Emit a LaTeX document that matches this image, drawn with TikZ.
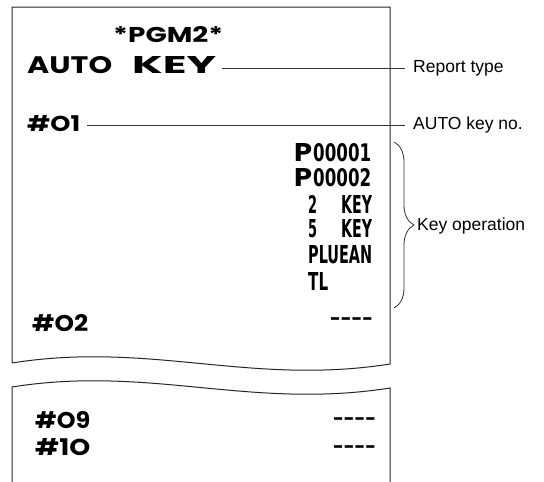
\documentclass[tikz,border=0pt]{standalone}
\usepackage{fontspec}
\setmainfont{Liberation Sans}
\newfontfamily\rcpt{Poppins}
\newfontfamily\cond{DejaVu Sans}
\usetikzlibrary{decorations.pathreplacing}
\newcommand{\rw}[3]{\resizebox{#1}{#2}{#3}}
\tikzset{
  paper/.style={line width=1pt, draw=black!85},
  leader/.style={line width=0.8pt, draw=black!80},
  brc/.style={line width=0.8pt, draw=black!80, decorate, decoration={brace, amplitude=20pt}},
  rtxt/.style={inner sep=0pt, anchor=west, font=\rcpt\bfseries},
  ctxt/.style={inner sep=0pt, anchor=west, font=\cond\bfseries},
  lbl/.style={inner xsep=8pt, inner ysep=0pt, anchor=west, font=\fontsize{17.5}{20}\selectfont},
}
\begin{document}
\begin{tikzpicture}[x=1pt, y=-1pt]
\useasboundingbox[fill=white] (0,0) rectangle (544,482);
% paper outlines
\draw[paper] (12,363) -- (12,7) -- (390,7) -- (390,364)
  .. controls (250,386) and (150,341) .. (12,363);
\draw[paper] (12,482) -- (12,387) .. controls (150,365) and (250,410) .. (390,388) -- (390,482);
% receipt text
\node[rtxt] (pgm) at (113,35) {\rw{110pt}{16pt}{*PGM2*}};
\node[rtxt] (ak) at (27,65) {\rw{85pt}{17pt}{AUTO}\hspace{20pt}\rw{84pt}{17pt}{KEY}};
\node[rtxt] (n01) at (27,124) {\rw{53pt}{16pt}{\#O1}};
\node[ctxt] (p1) at (294,152.5) {\rw{18pt}{18pt}{\rcpt\bfseries P}\hspace{1pt}\rw{58pt}{18pt}{00001}};
\node[ctxt] (p2) at (294,178) {\rw{18pt}{18pt}{\rcpt\bfseries P}\hspace{1pt}\rw{58pt}{18pt}{00002}};
\node[ctxt] (k2) at (308,204) {\rw{9pt}{18pt}{2}\hspace{24pt}\rw{31pt}{18pt}{KEY}};
\node[ctxt] (k5) at (308,229) {\rw{9pt}{18pt}{5}\hspace{24pt}\rw{31pt}{18pt}{KEY}};
\node[ctxt] (plu) at (308,254.5) {\rw{64pt}{18pt}{PLUEAN}};
\node[ctxt] (tl) at (308,281) {\rw{20pt}{18pt}{TL}};
\node[rtxt] (n02) at (32,323) {\rw{56pt}{17pt}{\#O2}};
\node[rtxt] (d02) at (330,322) {\resizebox{43pt}{!}{----}};
\node[rtxt] (n09) at (35,420) {\rw{55pt}{17pt}{\#O9}};
\node[rtxt] (d09) at (333,422) {\resizebox{43pt}{!}{----}};
\node[rtxt] (n10) at (35,447) {\rw{55pt}{17pt}{\#1O}};
\node[rtxt] (d10) at (333,450) {\resizebox{43pt}{!}{----}};
% labels
\node[lbl] (rt) at (405,68.5) {Report type};
\node[lbl] (akn) at (405,125) {AUTO key no.};
\node[lbl, inner xsep=3pt] (ko) at (414,226) {Key operation};
% leaders
\draw[leader] ([xshift=6pt,yshift=-3.5pt]ak.east) -- (rt.west);
\draw[leader] ([xshift=7pt,yshift=-1pt]n01.east) -- (akn.west);
\coordinate (bt) at (394,142);
\coordinate (bb) at (394,308);
\draw[brc] (bt) -- (bb);
\end{tikzpicture}
\end{document}
